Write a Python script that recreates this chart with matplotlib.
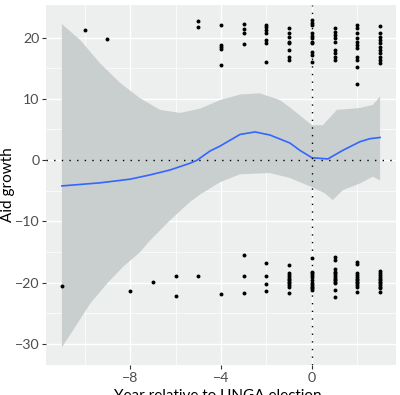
import numpy as np
import matplotlib
matplotlib.use("Agg")
import matplotlib.pyplot as plt

plt.rcParams['font.family'] = ['Lato', 'DejaVu Sans']

# scatter data: year relative to election, aid growth
years = (
    [-10, -9, -5, -5, -4, -4, -4, -4, -4]
    + [-3] * 4 + [-2] * 7 + [-1] * 8 + [0] * 11 + [1] * 9 + [2] * 11 + [3] * 11
    + [-11, -8, -7, -6, -6, -5, -4]
    + [-3] * 3 + [-2] * 4 + [-1] * 11 + [0] * 11 + [1] * 13 + [2] * 12 + [3] * 12
)
growth = (
    [21.2, 19.7, 22.7, 21.7, 22.0, 18.8, 18.4, 18.1, 15.5]
    + [22.2, 21.4, 20.7, 18.9]
    + [22.0, 21.7, 21.2, 20.7, 19.6, 19.1, 16.0]
    + [21.5, 20.7, 20.1, 19.2, 19.1, 17.9, 16.8, 16.3]
    + [22.8, 22.3, 22.0, 20.7, 20.2, 19.9, 19.2, 19.1, 17.6, 17.1, 16.0]
    + [21.5, 20.9, 20.4, 19.9, 19.2, 17.9, 17.5, 16.8, 16.3]
    + [22.0, 21.5, 20.7, 19.9, 19.2, 18.8, 18.3, 16.8, 16.3, 15.2, 12.4]
    + [21.9, 20.7, 20.1, 19.6, 19.1, 18.4, 17.9, 17.5, 16.8, 16.3, 15.8]
    + [-20.6, -21.4, -19.9, -18.9, -22.2, -18.9, -21.9]
    + [-15.5, -18.9, -21.7]
    + [-16.8, -18.9, -20.2, -21.4]
    + [-17.1, -18.4, -18.8, -19.1, -19.3, -19.6, -19.9, -20.1, -20.4, -20.7, -21.7]
    + [-16.0, -18.3, -18.4, -18.8, -19.1, -19.6, -20.1, -20.4, -20.7, -20.9, -21.2]
    + [-15.8, -16.3, -17.8, -18.3, -18.4, -18.8, -19.1, -19.3, -19.6, -19.9, -20.1, -21.2, -22.3]
    + [-16.6, -17.0, -18.4, -18.8, -19.1, -19.3, -19.6, -19.9, -20.1, -20.4, -20.7, -21.5]
    + [-18.1, -18.4, -18.8, -19.1, -19.3, -19.6, -19.9, -20.1, -20.4, -20.7, -20.9, -21.5]
)

# loess smooth
fit_x = [-11, -10, -9.33, -8, -7.12, -6.24, -5.36, -5.05, -4.48, -4.04, -3.16,
         -2.5, -1.85, -0.97, -0.53, 0, 0.7, 1.36, 2.11, 2.55, 3]
fit_y = [-4.2, -3.9, -3.7, -3.1, -2.4, -1.6, -0.5, 0.0, 1.5, 2.3, 4.2,
         4.6, 4.1, 2.8, 1.6, 0.4, 0.2, 1.6, 3.0, 3.5, 3.7]

hi_x = [-11, -10.2, -9.32, -8.44, -7.56, -6.68, -5.8, -4.92, -4.04, -3.16,
        -2.29, -1.41, -0.97, -0.53, 0, 0.48, 1.1, 2.11, 2.68, 3]
hi_y = [22.2, 19.6, 15.8, 12.6, 10.1, 8.2, 7.7, 8.4, 9.8, 10.7,
        10.9, 9.8, 8.6, 7.3, 5.7, 5.7, 8.2, 8.5, 9.0, 10.4]

lo_x = [-11, -10.5, -9.76, -9.01, -8.31, -7.56, -7.12, -6.24, -5.36, -4.92,
        -4.04, -3.16, -1.85, -0.97, 0, 0.57, 0.92, 1.36, 2.11, 2.68, 3]
lo_y = [-30.5, -27.7, -23.4, -20.1, -17.4, -15.0, -13.1, -9.8, -6.8, -5.6,
        -3.6, -2.3, -2.1, -2.9, -4.4, -5.4, -6.5, -4.9, -3.8, -2.7, -3.3]

fig = plt.figure(figsize=(4.0, 3.95), dpi=100)
ax = fig.add_axes([46 / 400, 30 / 395, 350 / 400, 360 / 395])
ax.set_facecolor('#EDEEEE')
for s in ax.spines.values():
    s.set_visible(False)

# band as a closed polygon
band_x = hi_x + lo_x[::-1]
band_y = hi_y + lo_y[::-1]
ax.fill(band_x, band_y, color='#C9CFCF', lw=0, zorder=2)
ax.plot(fit_x, fit_y, color='#3366FF', lw=1.2, zorder=3)

ax.scatter(years, growth, s=8, color='black', lw=0, zorder=4)

ax.axhline(0, color='black', lw=1, ls=(0, (1, 4.5)), zorder=5)
ax.axvline(0, color='black', lw=1, ls=(0, (1, 4.5)), zorder=5)

ax.set_xlim(-11.7, 3.7)
ax.set_ylim(-33.4, 25.3)
ax.set_xticks([-8, -4, 0])
ax.set_xticklabels(['\u22128', '\u22124', '0'])
ax.set_yticks([-30, -20, -10, 0, 10, 20])
ax.set_yticklabels(['\u221230', '\u221220', '\u221210', '0', '10', '20'])
ax.set_xticks([-10, -6, -2, 2], minor=True)
ax.set_yticks([-25, -15, -5, 5, 15], minor=True)
ax.grid(which='major', color='white', lw=1.0, zorder=0)
ax.grid(which='minor', color='white', lw=0.5, zorder=0)
ax.set_axisbelow(True)
ax.tick_params(which='major', length=2.7, width=0.8, color='#333333',
               labelsize=10.2, labelcolor='#4D4D4D', pad=2)
ax.tick_params(which='minor', length=0)

ax.set_ylabel('Aid growth', fontsize=11, color='black')
ax.yaxis.set_label_coords(-0.088, 0.5)
ax.set_xlabel('Year relative to UNGA election', fontsize=11, color='black')
ax.xaxis.set_label_coords(0.49, -0.066)

fig.savefig('out.png', dpi=100)
